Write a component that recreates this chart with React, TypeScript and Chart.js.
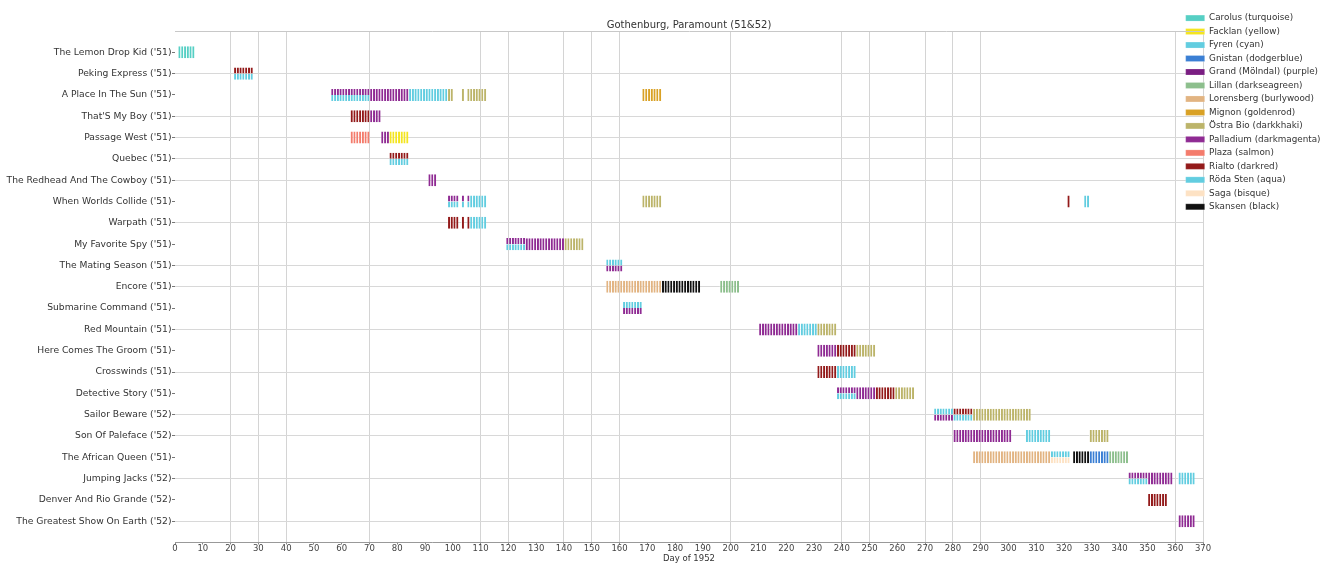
import React, { useEffect, useRef } from "react";
import { Chart, registerables } from "chart.js";

Chart.register(...registerables);

const movies = [
  "The Lemon Drop Kid ('51)",
  "Peking Express ('51)",
  "A Place In The Sun ('51)",
  "That'S My Boy ('51)",
  "Passage West ('51)",
  "Quebec ('51)",
  "The Redhead And The Cowboy ('51)",
  "When Worlds Collide ('51)",
  "Warpath ('51)",
  "My Favorite Spy ('51)",
  "The Mating Season ('51)",
  "Encore ('51)",
  "Submarine Command ('51)",
  "Red Mountain ('51)",
  "Here Comes The Groom ('51)",
  "Crosswinds ('51)",
  "Detective Story ('51)",
  "Sailor Beware ('52)",
  "Son Of Paleface ('52)",
  "The African Queen ('51)",
  "Jumping Jacks ('52)",
  "Denver And Rio Grande ('52)",
  "The Greatest Show On Earth ('52)",
];

const cinemaNames = [
  "Carolus (turquoise)",
  "Facklan (yellow)",
  "Fyren (cyan)",
  "Gnistan (dodgerblue)",
  "Grand (Mölndal) (purple)",
  "Lillan (darkseagreen)",
  "Lorensberg (burlywood)",
  "Mignon (goldenrod)",
  "Östra Bio (darkkhaki)",
  "Palladium (darkmagenta)",
  "Plaza (salmon)",
  "Rialto (darkred)",
  "Röda Sten (aqua)",
  "Saga (bisque)",
  "Skansen (black)",
];

const cinemaColors = [
  "#56cfc4",
  "#f4e520",
  "#62cde0",
  "#3b7fd4",
  "#7a1e82",
  "#8dbf8d",
  "#e2b482",
  "#d9a125",
  "#bcb46a",
  "#8f2b93",
  "#f47c6c",
  "#931a1a",
  "#62cde0",
  "#fde2c4",
  "#111111",
];

// [movie index, cinema index, first day, last day, part]  part: 0 = whole row, 1 = upper half, 2 = lower half
const showings: [number, number, number, number, number][] = [
  [0, 0, 1, 6, 0],
  [1, 11, 21, 27, 1], [1, 12, 21, 27, 2],
  [2, 9, 56, 69, 1], [2, 12, 56, 69, 2], [2, 9, 70, 83, 0], [2, 12, 84, 97, 0],
  [2, 8, 98, 99, 0], [2, 8, 103, 103, 0], [2, 8, 105, 111, 0], [2, 7, 168, 174, 0],
  [3, 11, 63, 69, 0], [3, 9, 70, 73, 0],
  [4, 10, 63, 69, 0], [4, 9, 74, 76, 0], [4, 1, 77, 83, 0],
  [5, 11, 77, 83, 1], [5, 12, 77, 83, 2],
  [6, 9, 91, 93, 0],
  [7, 9, 98, 101, 1], [7, 12, 98, 101, 2], [7, 9, 103, 103, 1], [7, 12, 103, 103, 2],
  [7, 9, 105, 105, 1], [7, 12, 105, 105, 2], [7, 12, 106, 111, 0], [7, 8, 168, 174, 0],
  [7, 11, 321, 321, 0], [7, 12, 327, 328, 0],
  [8, 11, 98, 101, 0], [8, 11, 103, 103, 0], [8, 11, 105, 105, 0], [8, 12, 106, 111, 0],
  [9, 9, 119, 125, 1], [9, 12, 119, 125, 2], [9, 9, 126, 139, 0], [9, 8, 140, 146, 0],
  [10, 12, 155, 160, 1], [10, 9, 155, 160, 2],
  [11, 6, 155, 174, 0], [11, 14, 175, 188, 0], [11, 5, 196, 202, 0],
  [12, 12, 161, 167, 1], [12, 9, 161, 167, 2],
  [13, 9, 210, 223, 0], [13, 12, 224, 230, 0], [13, 8, 231, 237, 0],
  [14, 9, 231, 237, 0], [14, 11, 238, 244, 0], [14, 8, 245, 251, 0],
  [15, 11, 231, 237, 0], [15, 12, 238, 244, 0],
  [16, 9, 238, 244, 1], [16, 12, 238, 244, 2], [16, 9, 245, 251, 0], [16, 11, 252, 258, 0], [16, 8, 259, 265, 0],
  [17, 12, 273, 279, 1], [17, 9, 273, 279, 2], [17, 11, 280, 286, 1], [17, 12, 280, 286, 2], [17, 8, 287, 307, 0],
  [18, 9, 280, 300, 0], [18, 12, 306, 314, 0], [18, 8, 329, 335, 0],
  [19, 6, 287, 314, 0], [19, 12, 315, 321, 1], [19, 13, 315, 321, 2], [19, 14, 323, 328, 0],
  [19, 3, 329, 335, 0], [19, 5, 336, 342, 0],
  [20, 9, 343, 349, 1], [20, 12, 343, 349, 2], [20, 9, 350, 358, 0], [20, 12, 361, 366, 0],
  [21, 11, 350, 356, 0],
  [22, 9, 361, 366, 0],
];

const xMin = 0;
const xMax = 370;
const xStep = 10;
const gridDays = [20, 30, 40, 70, 110, 120, 140, 150, 160, 200, 240, 250, 270, 280, 290, 360, 370];
const gridRows = [1, 3, 4, 5, 6, 8, 10, 11, 13, 15, 17, 18, 20, 22];

const FONT = "'DejaVu Sans', 'Liberation Sans', sans-serif";
const HALF = 0.141;

const legendShift = {
  id: "legendShift",
  afterLayout(chart: any) {
    const lg = chart.legend;
    if (lg) {
      lg.left = chart.chartArea.right - 22;
      lg.top = 9;
    }
  },
};

export default function App() {
  const ref = useRef<HTMLCanvasElement | null>(null);

  useEffect(() => {
    if (!ref.current) return;
    Chart.defaults.font.family = FONT;

    const datasets: any[] = [];
    [0, 1, 2].forEach((part) => {
      cinemaNames.forEach((name, c) => {
        const data: any[] = [];
        showings
          .filter((s) => s[1] === c && s[4] === part)
          .forEach(([m, , a, b]) => {
            for (let d = a; d <= b; d++) {
              data.push({ x: [d, d + 1], y: m + (part === 1 ? -HALF : part === 2 ? HALF : 0) });
            }
          });
        if (part === 0 || data.length) {
          datasets.push({
            label: name,
            part,
            data,
            backgroundColor: cinemaColors[c],
            borderColor: "#ffffff",
            borderWidth: { left: 0.8, right: 0, top: 0, bottom: 0 },
            borderSkipped: false,
            inflateAmount: 0,
            barThickness: part === 0 ? 12 : 6,
            grouped: false,
          });
        }
      });
    });

    const chart = new Chart(ref.current, {
      type: "bar",
      data: { datasets },
      plugins: [legendShift],
      options: {
        animation: false,
        responsive: true,
        maintainAspectRatio: false,
        indexAxis: "y",
        events: [],
        layout: { padding: 0 },
        scales: {
          x: {
            type: "linear",
            position: "bottom",
            min: xMin,
            max: xMax,
            ticks: {
              stepSize: xStep,
              color: "#444",
              font: { size: 8.5, lineHeight: 1 },
              padding: 0,
              maxRotation: 0,
              autoSkip: false,
            },
            grid: {
              color: (ctx: any) =>
                ctx.tick && gridDays.includes(ctx.tick.value) ? "#d4d4d4" : "rgba(0,0,0,0)",
              tickColor: "#888",
              tickLength: 2,
              lineWidth: 1,
            },
            border: { display: true, color: "#999" },
            title: {
              display: true,
              text: "Day of 1952",
              color: "#333",
              font: { size: 8.5, lineHeight: 1 },
              padding: { top: 1.5, bottom: 0 },
            },
          },
          x2: {
            type: "linear",
            position: "top",
            min: xMin,
            max: xMax,
            ticks: { display: false },
            grid: { display: false, drawTicks: false, tickLength: 0 },
            border: { display: true, color: "#c8c8c8" },
          },
          y: {
            type: "linear",
            reverse: true,
            offset: false,
            min: -1,
            max: movies.length,
            afterBuildTicks: (s: any) => {
              s.ticks = movies.map((_, i) => ({ value: i }));
            },
            afterFit: (s: any) => {
              s.width = 175;
            },
            ticks: {
              autoSkip: false,
              color: "#333",
              padding: 0.5,
              font: { size: 9.2 },
              callback: (v: any) => movies[Math.round(Number(v))] ?? "",
            },
            grid: {
              offset: false,
              color: (ctx: any) =>
                ctx.tick && gridRows.includes(ctx.tick.value) ? "#d8d8d8" : "rgba(0,0,0,0)",
              tickColor: "#777",
              tickLength: 3,
            },
            border: { display: false },
          },
        },
        plugins: {
          tooltip: { enabled: false },
          title: {
            display: true,
            text: "Gothenburg, Paramount (51&52)",
            fullSize: false,
            color: "#333",
            font: { size: 10, weight: "normal", lineHeight: 1.2 },
            padding: { top: 19, bottom: 0 },
          },
          legend: {
            position: "right",
            align: "start",
            maxWidth: 125,
            labels: {
              boxWidth: 19,
              boxHeight: 6,
              padding: 4.68,
              color: "#333",
              font: { size: 8.8 },
              filter: (item: any, data: any) => data.datasets[item.datasetIndex].part === 0,
            },
          },
        },
      } as any,
    });

    return () => chart.destroy();
  }, []);

  return (
    <div style={{ position: "fixed", left: 0, top: 0, width: 1328, height: 563, background: "#fff" }}>
      <canvas ref={ref} />
    </div>
  );
}
